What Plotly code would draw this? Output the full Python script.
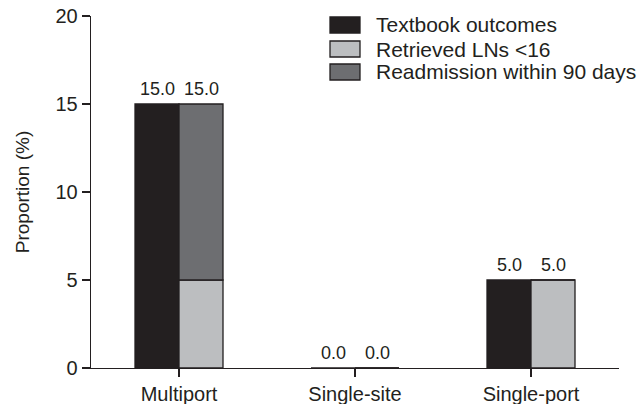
import plotly.graph_objects as go

categories = ["Multiport", "Single-site", "Single-port"]
textbook = [15.0, 0.0, 5.0]
retrieved = [5.0, 0.0, 5.0]
readmission = [10.0, 0.0, 0.0]
series_names = ["Textbook outcomes", "Retrieved LNs <16", "Readmission within 90 days"]
y_ticks = [0, 5, 10, 15, 20]

colors = ["#231f20", "#bcbec0", "#6d6e71"]
font_family = "Liberation Sans, Arial, sans-serif"
ink = "#231f20"

xs = list(range(len(categories)))
fig = go.Figure()
line = dict(color=ink, width=1.3)
fig.add_trace(go.Bar(x=xs, y=textbook, width=0.25, offset=-0.25, marker=dict(color=colors[0], line=line),
                     name=series_names[0], showlegend=False, hoverinfo="skip"))
fig.add_trace(go.Bar(x=xs, y=retrieved, width=0.25, offset=0, marker=dict(color=colors[1], line=line),
                     name=series_names[1], showlegend=False, hoverinfo="skip"))
fig.add_trace(go.Bar(x=xs, y=readmission, base=retrieved, width=0.25, offset=0,
                     marker=dict(color=colors[2], line=line),
                     name=series_names[2], showlegend=False, hoverinfo="skip"))

# value labels
stack_tot = [a + b for a, b in zip(retrieved, readmission)]
for i in xs:
    for xv, yv in ((i - 0.125, textbook[i]), (i + 0.125, stack_tot[i])):
        fig.add_annotation(x=xv, y=yv, text=f"{yv:.1f}", showarrow=False, yanchor="bottom",
                           yshift=3, font=dict(size=18, color=ink, family=font_family))

# manual legend
box_y = [(17, 33), (41, 57), (64, 80)]
H, W = 404, 643
for k, (name, c) in enumerate(zip(series_names, colors)):
    y0, y1 = box_y[k]
    fig.add_shape(type="rect", xref="paper", yref="paper",
                  x0=(330 - 91) / 528, x1=(360 - 91) / 528,
                  y0=(368 - y1) / 352, y1=(368 - y0) / 352,
                  fillcolor=c, line=dict(color=ink, width=1.3))
    fig.add_annotation(xref="paper", yref="paper", x=(374 - 91) / 528, y=(368 - (y0 + y1) / 2) / 352,
                       xanchor="left", yanchor="middle", text=name, showarrow=False,
                       font=dict(size=21, color=ink, family=font_family))

fig.update_layout(
    template="none",
    width=W, height=H,
    margin=dict(l=91, r=24, t=16, b=36, pad=0),
    plot_bgcolor="white", paper_bgcolor="white",
    barmode="overlay",
    showlegend=False,
    font=dict(family=font_family, color=ink, size=20),
    xaxis=dict(range=[-0.5, 2.5], tickvals=xs, ticktext=categories, showline=True, linecolor=ink,
               linewidth=1.3, ticks="outside", ticklen=8, tickcolor=ink, tickwidth=1.3,
               showgrid=False, zeroline=False, tickfont=dict(size=20), automargin=False,
               fixedrange=True),
    yaxis=dict(range=[0, 20], tickvals=y_ticks, showline=True, linecolor=ink, linewidth=1.3,
               ticks="outside", ticklen=8, tickcolor=ink, tickwidth=1.3, showgrid=False,
               zeroline=False, tickfont=dict(size=20), automargin=False, fixedrange=True,
               title=dict(text="Proportion (%)", font=dict(size=19), standoff=20)),
)

fig.write_html("out.html", config={"displayModeBar": False, "staticPlot": True},
               post_script="document.body.style.margin='0';document.body.style.overflow='hidden';")
